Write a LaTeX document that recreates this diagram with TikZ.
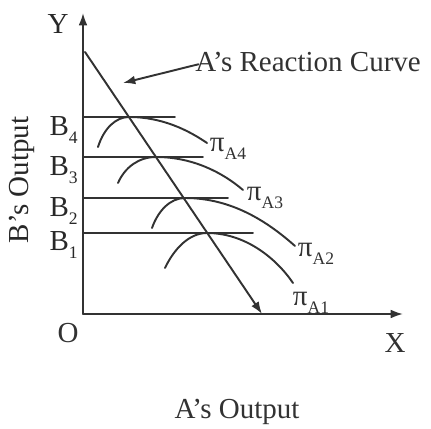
\documentclass[tikz,border=0pt]{standalone}
\usepackage{fontspec}
\setmainfont{Liberation Serif}
\usetikzlibrary{arrows.meta}
\definecolor{inkgray}{RGB}{50,50,50}
\definecolor{labgray}{RGB}{40,40,40}
\newcommand{\lowsub}[1]{\raisebox{-0.6ex}{\fontsize{10}{10}\selectfont #1}}

\begin{document}
\begin{tikzpicture}[x=0.02cm,y=0.02cm,line cap=round,line join=round,font=\fontsize{16.5}{18}\selectfont,
  ink/.style={draw=inkgray,line width=1.1pt},
  tip/.style={-{Latex[length=7pt,width=5pt]}},
  lbl/.style={text=inkgray,inner sep=0pt},
  axlbl/.style={text=labgray,inner sep=0pt}]
\useasboundingbox (0,0) rectangle (431,-428);
% axes
\coordinate (o) at (83,-314);
\coordinate (xend) at (403,-314);
\coordinate (yend) at (83,-13);
\draw[ink,tip] (o) -- (xend);
\draw[ink,tip] (o) -- (yend);
\node[axlbl] (ylab) at (58,-24) {Y};
\node[lbl] (olab) at (68,-333) {O};
\node[lbl] (xlab) at (395,-343) {X};
\node[axlbl] (bout) at (22,-180) {\rotatebox{90}{B's Output}};
\node[lbl,anchor=base] (aout) at (237,-418) {A's Output};
% reaction curve
\coordinate (rtop) at (85,-52);
\coordinate (rbot) at (262,-314);
\draw[ink,tip] (rtop) -- (rbot);
\node[lbl,anchor=base west] (rctext) at (195,-72) {A's Reaction Curve};
\coordinate (rctip) at (123,-83);
\draw[ink,tip] ([xshift=2pt,yshift=-1pt]rctext.west) -- (rctip);
% output levels of B
\coordinate (b4) at (83,-117);
\coordinate (b3) at (83,-157);
\coordinate (b2) at (83,-198);
\coordinate (b1) at (83,-233);
\draw[ink] (b4) -- (175,-117);
\draw[ink] (b3) -- (203,-157);
\draw[ink] (b2) -- (228,-198);
\draw[ink] (b1) -- (253,-233);
\node[axlbl,anchor=north east] (b4lab) at (78,-116) {B\lowsub{4}};
\node[axlbl,anchor=north east] (b3lab) at (78,-156) {B\lowsub{3}};
\node[axlbl,anchor=north east] (b2lab) at (78,-197) {B\lowsub{2}};
\node[axlbl,anchor=north east] (b1lab) at (78,-231) {B\lowsub{1}};
% isoprofit curves of A
\draw[ink] (98,-147) .. controls (104,-128) and (116,-117) .. (129,-117) .. controls (162,-117) and (188,-130) .. (207,-143);
\draw[ink] (118,-183) .. controls (125,-167) and (139,-157) .. (156,-157) .. controls (192,-157) and (222,-172) .. (243,-190);
\draw[ink] (152,-228) .. controls (158,-211) and (170,-198) .. (185,-198) .. controls (232,-198) and (268,-222) .. (295,-246);
\draw[ink] (165,-268) .. controls (174,-249) and (189,-233) .. (207,-233) .. controls (245,-233) and (276,-258) .. (293,-283);
\node[lbl] (pa4) at (228,-149) {π\lowsub{A4}};
\node[lbl] (pa3) at (265,-198) {π\lowsub{A3}};
\node[lbl] (pa2) at (316,-254) {π\lowsub{A2}};
\node[lbl] (pa1) at (311,-303) {π\lowsub{A1}};
\end{tikzpicture}
\end{document}
